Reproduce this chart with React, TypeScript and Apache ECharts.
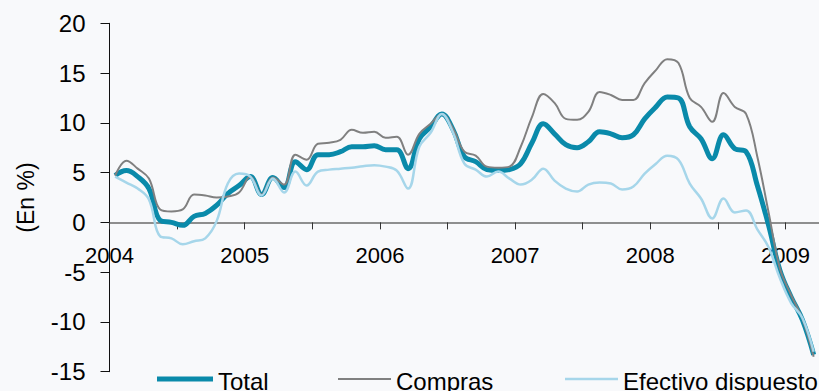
import React, { useEffect, useRef } from "react";
import * as echarts from "echarts";

// Monthly year-on-year growth, January 2004 to March 2009 (%)
const startYear = 2004;
const seriesNames = ["Total", "Compras", "Efectivo dispuesto"];
const seriesColors = ["#0a8aaa", "#808080", "#a6d6ea"];
const seriesWidths = [5, 2, 2.5];

const total = [
  4.7, 5.2, 4.6, 3.4, 0.2, 0.0, -0.3, 0.6, 0.9, 1.7, 2.9, 3.7,
  4.6, 2.8, 4.5, 3.5, 6.1, 5.3, 6.8, 6.8, 7.1, 7.6, 7.6, 7.7,
  7.3, 7.3, 5.4, 8.4, 9.6, 10.9, 9.3, 6.6, 6.1, 5.3, 5.2, 5.3,
  5.9, 8.0, 9.9, 8.9, 7.8, 7.5, 8.1, 9.1, 8.9, 8.5, 8.8, 10.4,
  11.6, 12.6, 12.5, 9.6, 8.4, 6.4, 8.8, 7.4, 7.1, 3.7, -0.3, -4.8,
  -7.5, -9.8, -13.3,
];

const compras = [
  4.7, 6.2, 5.4, 4.4, 1.3, 1.1, 1.3, 2.8, 2.7, 2.5, 2.6, 3.0,
  4.6, 2.8, 4.5, 3.8, 6.8, 6.3, 7.9, 8.0, 8.3, 9.3, 9.0, 9.1,
  8.5, 8.6, 6.8, 8.9, 9.9, 10.9, 9.4, 7.1, 6.7, 5.6, 5.5, 5.6,
  7.6, 10.6, 12.9, 12.0, 10.4, 10.3, 11.1, 13.1, 12.8, 12.3, 12.3, 14.0,
  15.3, 16.4, 16.0, 12.5, 11.6, 10.1, 13.0, 11.6, 10.9, 6.6, 1.0, -4.6,
  -7.3, -9.7, -13.5,
];

const efectivo = [
  4.6, 4.0, 3.4, 2.3, -1.4, -1.6, -2.2, -1.9, -1.6, 0.1, 3.9, 4.9,
  4.6, 2.7, 4.4, 3.0, 5.1, 3.7, 5.1, 5.3, 5.4, 5.5, 5.65, 5.75,
  5.6, 5.2, 3.4, 7.6, 9.0, 10.9, 9.0, 5.9, 5.3, 4.6, 5.1, 4.4,
  3.8, 4.3, 5.4, 4.2, 3.4, 3.1, 3.8, 4.0, 3.9, 3.3, 3.6, 4.9,
  5.9, 6.7, 6.3, 3.9, 2.4, 0.4, 2.4, 1.0, 1.2, -0.7, -2.5, -5.6,
  -8.1, -9.6, -13.0,
];

// Each monthly value sits in the middle of its month on a decimal-year axis
const toPoints = (values: number[]) =>
  values.map((v, i) => [startYear + (i + 0.5) / 12, v]);

const FONT = "'Liberation Sans', Arial, sans-serif";

const Y_MIN = -15;
const Y_MAX = 20;
const GRID_TOP = 23.3;
const GRID_HEIGHT = 348.4;
// Lift the year axis from the grid's bottom edge up to the zero line
const zeroLineOffset = -(GRID_HEIGHT * (0 - Y_MIN)) / (Y_MAX - Y_MIN);

// Hand-drawn legend: a stroke sample followed by its label
const legendX = [157, 338, 565];
const legendLineLen = [56, 53, 53];
const legendY = 379;

function legendGraphics() {
  const items: any[] = [];
  seriesNames.forEach((name, i) => {
    items.push({
      type: "line",
      shape: { x1: legendX[i], y1: legendY, x2: legendX[i] + legendLineLen[i], y2: legendY },
      style: { stroke: seriesColors[i], lineWidth: seriesWidths[i] },
    });
    items.push({
      type: "text",
      x: legendX[i] + legendLineLen[i] + 5,
      y: legendY + 2,
      style: {
        text: name,
        fontSize: 24,
        fontFamily: FONT,
        fill: "#000",
        verticalAlign: "middle",
      },
    });
  });
  return items;
}

export default function App() {
  const ref = useRef<HTMLDivElement>(null);

  useEffect(() => {
    if (!ref.current) return;
    const chart = echarts.init(ref.current, undefined, { renderer: "svg" });
    chart.setOption({
      animation: false,
      backgroundColor: "#f8f9fb",
      grid: {
        left: 109.5,
        top: GRID_TOP,
        width: 743.6,
        height: GRID_HEIGHT,
        containLabel: false,
        outerBoundsMode: "none",
      },
      xAxis: {
        type: "value",
        min: 2004,
        max: 2009.5,
        interval: 0.5,
        position: "bottom",
        offset: zeroLineOffset,
        axisLine: { onZero: false, lineStyle: { color: "#6b6b6b", width: 1.5 } },
        axisTick: { show: true, length: 7, lineStyle: { color: "#333" } },
        axisLabel: {
          formatter: (v: number) => (Number.isInteger(v) && v < 2009.5 ? String(v) : ""),
          fontSize: 22,
          color: "#000",
          fontFamily: FONT,
          margin: 22,
          showMaxLabel: false,
        },
        splitLine: { show: false },
      },
      yAxis: {
        type: "value",
        min: Y_MIN,
        max: Y_MAX,
        interval: 5,
        name: "(En %)",
        nameLocation: "middle",
        nameRotate: 90,
        nameGap: 72,
        nameTextStyle: { fontSize: 23, color: "#000", fontFamily: FONT },
        axisLine: { show: true, onZero: false, lineStyle: { color: "#111", width: 1 } },
        axisTick: { show: true, length: 9, lineStyle: { color: "#111" } },
        axisLabel: { fontSize: 24, color: "#000", fontFamily: FONT, margin: 24 },
        splitLine: { show: false },
      },
      graphic: legendGraphics(),
      series: [
        {
          name: seriesNames[0],
          type: "line",
          data: toPoints(total),
          smooth: 0.4,
          symbol: "none",
          lineStyle: { color: seriesColors[0], width: seriesWidths[0] },
          itemStyle: { color: seriesColors[0] },
        },
        {
          name: seriesNames[1],
          type: "line",
          data: toPoints(compras),
          smooth: 0.4,
          symbol: "none",
          lineStyle: { color: seriesColors[1], width: seriesWidths[1] },
          itemStyle: { color: seriesColors[1] },
        },
        {
          name: seriesNames[2],
          type: "line",
          data: toPoints(efectivo),
          smooth: 0.4,
          symbol: "none",
          lineStyle: { color: seriesColors[2], width: seriesWidths[2] },
          itemStyle: { color: seriesColors[2] },
        },
      ],
    });
    return () => chart.dispose();
  }, []);

  return (
    <div
      ref={ref}
      style={{ position: "absolute", left: 0, top: 0, width: 819, height: 391 }}
    />
  );
}
